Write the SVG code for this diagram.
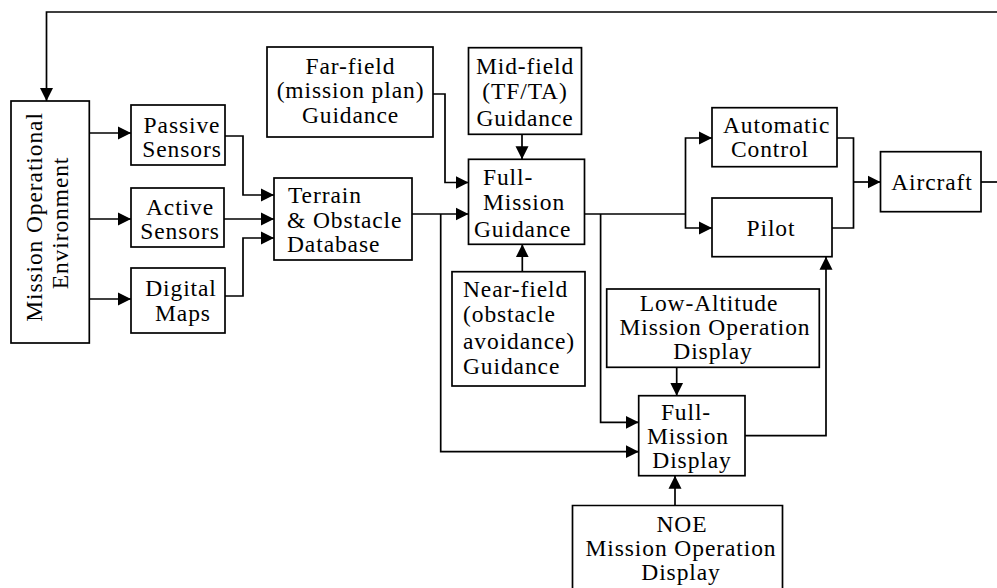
<svg xmlns="http://www.w3.org/2000/svg" width="997" height="588" viewBox="0 0 997 588">
<defs>
<style>
.box{fill:#fff;stroke:#000;stroke-width:1.7}
.ln{fill:none;stroke:#000;stroke-width:1.7}
.arr{marker-end:url(#ah)}
.t{font-family:'Liberation Serif','DejaVu Serif',serif;font-size:23.5px;letter-spacing:0.9px;fill:#000}
.m{text-anchor:middle}
</style>
<marker id="ah" markerUnits="userSpaceOnUse" markerWidth="14" markerHeight="14" viewBox="0 0 14 14" refX="13" refY="7" orient="auto">
<path d="M0,0.5 L13,7 L0,13.5 Z" fill="#000"/>
</marker>
</defs>
<rect width="997" height="588" fill="#fff"/>

<g id="connectors">
<path class="ln arr" d="M997,12 H46.5 V101"/>
<path class="ln" d="M981,182 H997"/>
<path class="ln arr" d="M89,133 H131"/>
<path class="ln arr" d="M89,219 H131"/>
<path class="ln arr" d="M89,299 H131"/>
<path class="ln arr" d="M225,136 H243 V195 H274"/>
<path class="ln arr" d="M224,219 H274"/>
<path class="ln arr" d="M225,296 H243 V238 H274"/>
<path class="ln arr" d="M433,94 H445 V182.5 H468.5"/>
<path class="ln arr" d="M412,214 H468.5"/>
<path class="ln arr" d="M440.7,214 V451.7 H638.7"/>
<path class="ln arr" d="M522,134 V159.3"/>
<path class="ln arr" d="M522.3,271.7 V244.3"/>
<path class="ln" d="M584.6,214 H685.5"/>
<path class="ln arr" d="M685.5,214 V138 H712"/>
<path class="ln arr" d="M685.5,214 V228 H712"/>
<path class="ln arr" d="M600.6,214 V422.3 H638.7"/>
<path class="ln" d="M837,138 H853.5 V228 H832"/>
<path class="ln arr" d="M853.5,182 H880.5"/>
<path class="ln arr" d="M676.7,367.3 V395.7"/>
<path class="ln arr" d="M675,505.5 V475.7"/>
<path class="ln arr" d="M745,435.7 H826 V256.7"/>
</g>

<g id="moe" class="t" font-family="Liberation Serif, DejaVu Serif, serif">
<rect class="box" x="11" y="101" width="78.3" height="242"/>
<text class="m" transform="translate(42,217) rotate(-90)">Mission Operational</text>
<text class="m" transform="translate(68,223) rotate(-90)">Environment</text>
</g>

<g id="passive" class="t" font-family="Liberation Serif, DejaVu Serif, serif">
<rect class="box" x="131" y="105" width="94" height="60"/>
<text class="m" x="182" y="133">Passive</text>
<text class="m" x="182" y="157">Sensors</text>
</g>

<g id="active" class="t" font-family="Liberation Serif, DejaVu Serif, serif">
<rect class="box" x="131" y="188" width="93" height="59"/>
<text class="m" x="180" y="215">Active</text>
<text class="m" x="180" y="239">Sensors</text>
</g>

<g id="digital" class="t" font-family="Liberation Serif, DejaVu Serif, serif">
<rect class="box" x="131" y="268" width="94" height="65"/>
<text class="m" x="181" y="296">Digital</text>
<text class="m" x="183" y="321">Maps</text>
</g>

<g id="database" class="t" font-family="Liberation Serif, DejaVu Serif, serif">
<rect class="box" x="274" y="178" width="138" height="82"/>
<text x="288" y="203">Terrain</text>
<text x="287" y="228">&amp; Obstacle</text>
<text x="287" y="252">Database</text>
</g>

<g id="farfield" class="t" font-family="Liberation Serif, DejaVu Serif, serif">
<rect class="box" x="267" y="47" width="166" height="90"/>
<text class="m" x="350.5" y="74">Far-field</text>
<text class="m" x="350.5" y="98">(mission plan)</text>
<text class="m" x="350.5" y="123">Guidance</text>
</g>

<g id="midfield" class="t" font-family="Liberation Serif, DejaVu Serif, serif">
<rect class="box" x="468.5" y="47.7" width="113" height="86.6"/>
<text class="m" x="525" y="74">Mid-field</text>
<text class="m" x="525" y="99">(TF/TA)</text>
<text class="m" x="525" y="126">Guidance</text>
</g>

<g id="fmg" class="t" font-family="Liberation Serif, DejaVu Serif, serif">
<rect class="box" x="468.5" y="159.3" width="116" height="85"/>
<text x="483" y="185">Full-</text>
<text x="483" y="210">Mission</text>
<text x="474" y="237">Guidance</text>
</g>

<g id="nearfield" class="t" font-family="Liberation Serif, DejaVu Serif, serif">
<rect class="box" x="452" y="271.7" width="133" height="114.3"/>
<text x="463" y="297">Near-field</text>
<text x="463" y="322">(obstacle</text>
<text x="463" y="349">avoidance)</text>
<text x="463" y="374">Guidance</text>
</g>

<g id="autocontrol" class="t" font-family="Liberation Serif, DejaVu Serif, serif">
<rect class="box" x="712" y="107.7" width="125" height="59"/>
<text class="m" x="776.6" y="133">Automatic</text>
<text class="m" x="770" y="157">Control</text>
</g>

<g id="pilot" class="t" font-family="Liberation Serif, DejaVu Serif, serif">
<rect class="box" x="712" y="198" width="120" height="58.7"/>
<text class="m" x="771" y="236">Pilot</text>
</g>

<g id="aircraft" class="t" font-family="Liberation Serif, DejaVu Serif, serif">
<rect class="box" x="880.5" y="151.7" width="100.5" height="60"/>
<text class="m" x="932" y="190">Aircraft</text>
</g>

<g id="lowalt" class="t" font-family="Liberation Serif, DejaVu Serif, serif">
<rect class="box" x="606.7" y="289" width="212.6" height="78.3"/>
<text class="m" x="709" y="311">Low-Altitude</text>
<text class="m" x="715" y="335">Mission Operation</text>
<text class="m" x="713" y="359">Display</text>
</g>

<g id="fmd" class="t" font-family="Liberation Serif, DejaVu Serif, serif">
<rect class="box" x="638.7" y="395.7" width="106.3" height="80"/>
<text class="m" x="686" y="420">Full-</text>
<text class="m" x="688" y="444">Mission</text>
<text class="m" x="692" y="468">Display</text>
</g>

<g id="noe" class="t" font-family="Liberation Serif, DejaVu Serif, serif">
<path class="box" d="M572.5,600 V505.5 H782.5 V600"/>
<text class="m" x="682" y="532">NOE</text>
<text class="m" x="681" y="556">Mission Operation</text>
<text class="m" x="681" y="580">Display</text>
</g>
</svg>
